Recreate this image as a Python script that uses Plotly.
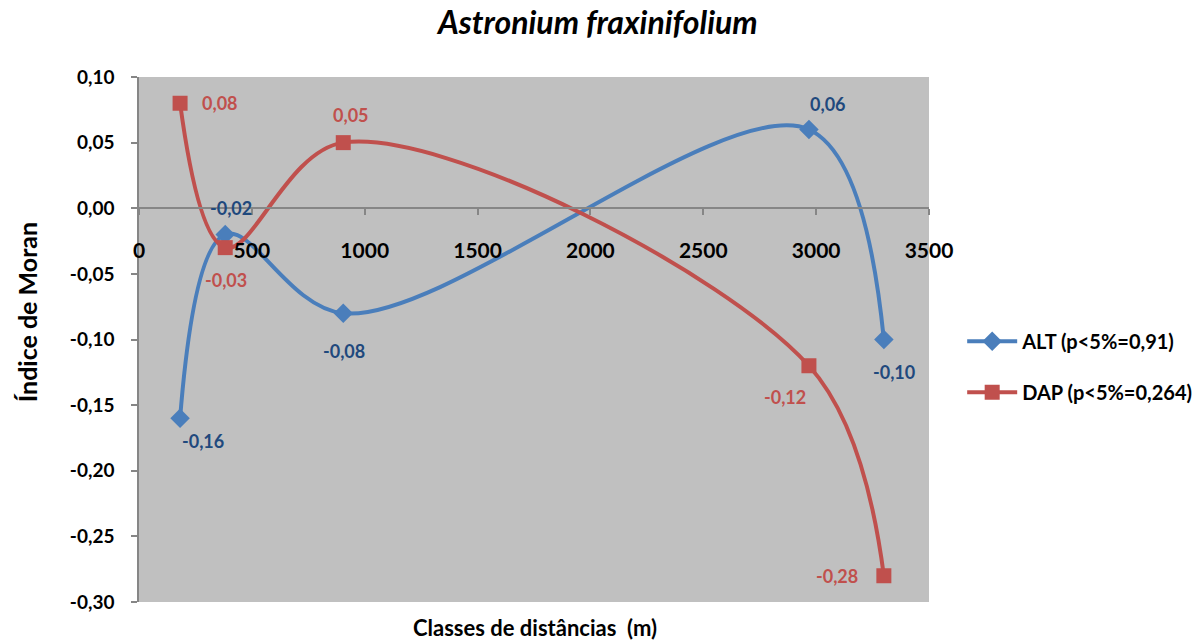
import plotly.graph_objects as go

# Data
distances = [182, 382, 905, 2968, 3300]
alt_values = [-0.16, -0.02, -0.08, 0.06, -0.10]
dap_values = [0.08, -0.03, 0.05, -0.12, -0.28]
x_ticks = [0, 500, 1000, 1500, 2000, 2500, 3000, 3500]
y_ticks = [0.10, 0.05, 0.00, -0.05, -0.10, -0.15, -0.20, -0.25, -0.30]

series_names = ["ALT (p<5%=0,91)", "DAP (p<5%=0,264)"]

FONT = "Lato"
ALT_COLOR = "#4A7EBB"
ALT_LABEL = "#1F497D"
DAP_COLOR = "#C0504D"
DAP_LABEL = "#C0504D"

fig = go.Figure()
fig.add_trace(go.Scatter(
    x=distances, y=alt_values, name=series_names[0], mode="lines+markers",
    line=dict(color=ALT_COLOR, width=4, shape="spline", smoothing=1.0),
    marker=dict(symbol="diamond", size=15, color=ALT_COLOR),
    legendgroup="a", hoverinfo="skip"))
fig.add_trace(go.Scatter(
    x=distances, y=dap_values, name=series_names[1], mode="lines+markers",
    line=dict(color=DAP_COLOR, width=4, shape="spline", smoothing=1.0),
    marker=dict(symbol="square", size=15, color=DAP_COLOR),
    legendgroup="b", hoverinfo="skip"))

def fmt(v):
    return f"{v:.2f}".replace(".", ",")

alt_shifts = [(23, -23), (6, 27), (1, -38), (19, 26), (10, -32)]
dap_shifts = [(40, 0), (1, -32), (8, 28), (-24, -31), (-47, 0)]

annotations = []
for xv, yv, (dx, dy) in zip(distances, alt_values, alt_shifts):
    annotations.append(dict(x=xv, y=yv, text=fmt(yv), showarrow=False,
                            xshift=dx, yshift=dy,
                            font=dict(family=FONT, size=18, color=ALT_LABEL, weight="bold")))
for xv, yv, (dx, dy) in zip(distances, dap_values, dap_shifts):
    annotations.append(dict(x=xv, y=yv, text=fmt(yv), showarrow=False,
                            xshift=dx, yshift=dy,
                            font=dict(family=FONT, size=18, color=DAP_LABEL, weight="bold")))

ymin, ymax = -0.30, 0.10
zero_pos = (0 - ymin) / (ymax - ymin)

annotations += [
    dict(text="<i><b>Astronium fraxinifolium</b></i>", x=0.58, y=1.106,
         xref="paper", yref="paper", xanchor="center", yanchor="middle", showarrow=False,
         font=dict(family=FONT, size=32, color="black")),
    dict(text="<b>Classes de distâncias  (m)</b>", x=0.501, y=-0.0495,
         xref="paper", yref="paper", xanchor="center", yanchor="middle", showarrow=False,
         font=dict(family=FONT, size=22, color="black")),
    dict(text="<b>Índice de Moran</b>", x=0, y=0.552, xshift=-112, textangle=-90,
         xref="paper", yref="paper", xanchor="center", yanchor="middle", showarrow=False,
         font=dict(family=FONT, size=25, color="black")),
]

fig.update_layout(
    width=1204, height=641,
    margin=dict(l=139, r=275, t=77, b=39, autoexpand=False),
    paper_bgcolor="white", plot_bgcolor="#C0C0C0",
    font=dict(family=FONT, color="black"),
    showlegend=True,
    legend=dict(x=1.042, xanchor="left", y=0.448, yanchor="middle",
                font=dict(family=FONT, size=20, color="black", weight="bold"),
                traceorder="grouped", tracegroupgap=22, itemwidth=50,
                bgcolor="rgba(0,0,0,0)"),
    annotations=annotations,
    xaxis=dict(range=[0, 3500], tickvals=x_ticks, ticktext=[str(t) for t in x_ticks],
               anchor="free", position=zero_pos, showgrid=False, zeroline=False,
               automargin=False,
               showline=True, linecolor="#868686", linewidth=1.5,
               ticks="outside", ticklen=6, tickcolor="#868686", tickwidth=1.5,
               ticklabelstandoff=18,
               tickfont=dict(family=FONT, size=21, color="black", weight="bold")),
    yaxis=dict(range=[ymin, ymax], tickvals=y_ticks, ticktext=[fmt(t) for t in y_ticks],
               showgrid=False, zeroline=False, automargin=False,
               showline=True, linecolor="#868686", linewidth=1.5,
               ticks="outside", ticklen=6, tickcolor="#868686", tickwidth=1.5,
               ticklabelstandoff=13,
               tickfont=dict(family=FONT, size=19, color="black", weight="bold")),
)

# Remove the page's default body margin so the figure fills the window exactly.
fig.write_html("out.html", config={"displayModeBar": False},
               post_script="document.body.style.margin='0';")
